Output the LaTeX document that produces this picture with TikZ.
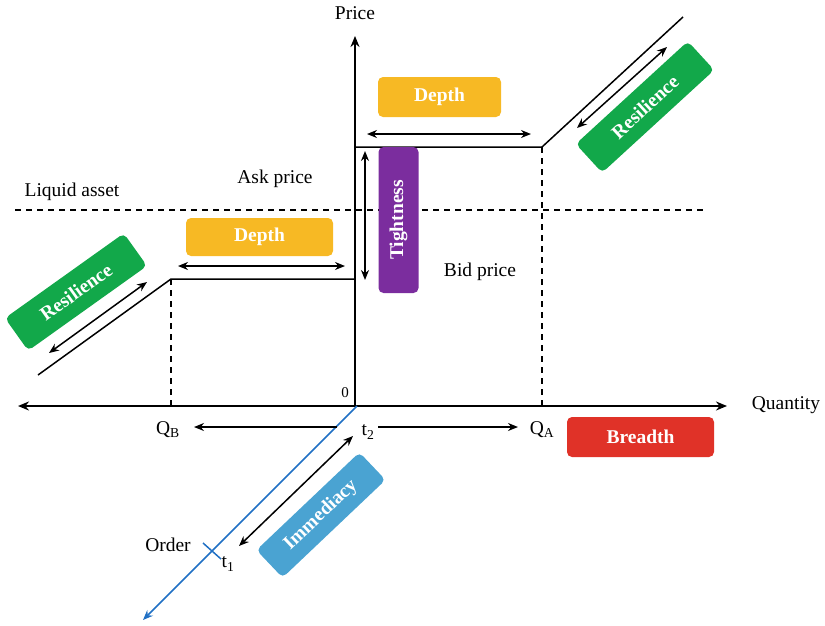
\documentclass[tikz,border=0pt]{standalone}
\usepackage{fontspec}
\setmainfont{Liberation Serif}
\usetikzlibrary{arrows.meta}
\definecolor{cdepth}{HTML}{F7B924}
\definecolor{ctight}{HTML}{7B2D9E}
\definecolor{cres}{HTML}{12A84A}
\definecolor{cimm}{HTML}{4AA3D2}
\definecolor{cbre}{HTML}{E03228}
\definecolor{corder}{HTML}{2070C4}
\tikzset{
  lab/.style={font=\fontsize{19.5}{21}\selectfont, inner sep=1pt},
  box/.style={rounded corners=5pt, text=white, font=\fontsize{19.5}{21}\selectfont\bfseries, inner sep=0pt, align=center},
  axis/.style={line width=1.8pt, -{Stealth[length=11pt,width=9pt]}},
  line/.style={line width=1.5pt},
  dline/.style={line width=1.5pt, dash pattern=on 6pt off 5pt},
  dbl/.style={line width=1.5pt, {Stealth[length=10pt,width=8pt]}-{Stealth[length=10pt,width=8pt]}},
  sgl/.style={line width=1.5pt, -{Stealth[length=10pt,width=8pt]}},
}
\begin{document}
\begin{tikzpicture}[x=1pt,y=-1pt]
\useasboundingbox (0,0) rectangle (825,625);
% coordinates
\coordinate (O) at (355,407);
\coordinate (Ptop) at (355,36);
\coordinate (Qleft) at (18,406);
\coordinate (Qright) at (727,406);
\coordinate (A1) at (355,147);
\coordinate (A2) at (542,147);
\coordinate (A3) at (683,17);
\coordinate (A4) at (542,406);
\coordinate (B1) at (355,279);
\coordinate (B2) at (171,279);
\coordinate (B3) at (38,375);
\coordinate (B4) at (171,406);
\coordinate (L1) at (15,210);
\coordinate (L2) at (707,210);
\coordinate (Oend) at (357,406);
\coordinate (Obot) at (143,620);

% liquid asset line
\draw[dline] (L1) -- (L2);
% dashed verticals
\draw[dline] (A2) -- (A4);
\draw[dline] (B2) -- (B4);
% axes
\draw[axis] (O) -- (Ptop);
\draw[line width=1.8pt, {Stealth[length=11pt,width=9pt]}-{Stealth[length=11pt,width=9pt]}] (Qleft) -- (Qright);
% steps
\draw[line] (A1) -- (A2) -- (A3);
\draw[line] (B1) -- (B2) -- (B3);
% order line
\draw[line width=1.5pt, corder, -{Stealth[length=10pt,width=8pt]}] (Oend) -- (Obot);
\coordinate (T1a) at (203,543);
\coordinate (T1b) at (221,559);
\draw[line width=1.5pt, corder] (T1a) -- (T1b);

% labels
\node[lab] (price) at (355,13) {Price};
\node[lab] (qty) at (786,405) {Quantity};
\node[lab] (liquid) at (72,192) {Liquid asset};
\node[lab] (ask) at (275,179) {Ask price};
\node[lab] (bid) at (480,272) {Bid price};
\node[lab, font=\fontsize{15}{16}\selectfont] (zero) at (345,393) {0};
\node[lab] (qb) at (168,430) {Q\textsubscript{B}};
\node[lab] (qa) at (542,430) {Q\textsubscript{A}};
\node[lab] (t2) at (368,432) {t\textsubscript{2}};
\node[lab] (t1) at (228,564) {t\textsubscript{1}};
\node[lab] (order) at (168,545) {Order};

% boxes
\node[box, fill=cdepth, minimum width=123pt, minimum height=40pt] (depthT) at (439.5,97) {Depth};
\node[box, fill=cdepth, minimum width=147pt, minimum height=38pt] (depthB) at (259.5,237) {Depth};
\node[box, fill=ctight, minimum width=146pt, minimum height=40pt, rotate=90] (tight) at (398.5,220) {Tightness};
\node[box, fill=cres, minimum width=146pt, minimum height=40pt, rotate=35.5] (resL) at (76,292) {Resilience};
\node[box, fill=cres, minimum width=152pt, minimum height=39pt, rotate=42.5] (resR) at (645,107) {Resilience};
\node[box, fill=cimm, minimum width=142pt, minimum height=38pt, rotate=43.5] (imm) at (321,515) {Immediacy};
\node[box, fill=cbre, minimum width=147pt, minimum height=40pt] (bre) at (640.5,437) {Breadth};

% arrows
\coordinate (dT1) at (367,134);
\coordinate (dT2) at (531,134);
\draw[dbl] (dT1) -- (dT2);
\coordinate (dB1) at (178,266);
\coordinate (dB2) at (345,266);
\draw[dbl] (dB1) -- (dB2);
\coordinate (ti1) at (365,151);
\coordinate (ti2) at (365,280);
\draw[dbl] (ti1) -- (ti2);
\coordinate (rl1) at (49,353);
\coordinate (rl2) at (147,282);
\draw[dbl] (rl1) -- (rl2);
\coordinate (rr1) at (577,128);
\coordinate (rr2) at (667,47);
\draw[dbl] (rr1) -- (rr2);
\coordinate (im1) at (239,546);
\coordinate (im2) at (353,436);
\draw[dbl] (im1) -- (im2);
\coordinate (qbs) at (337,427);
\coordinate (qbe) at (194,427);
\draw[sgl] (qbs) -- (qbe);
\coordinate (qas) at (378,427);
\coordinate (qae) at (518,427);
\draw[sgl] (qas) -- (qae);
\end{tikzpicture}
\end{document}
